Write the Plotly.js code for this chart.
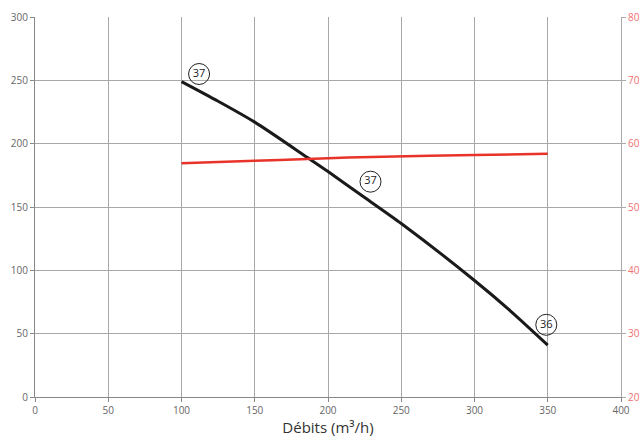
<!DOCTYPE html>
<html><head><meta charset="utf-8">
<script src="https://cdn.plot.ly/plotly-3.0.1.min.js"></script>
<style>html,body{margin:0;padding:0;background:#fff}</style>
</head><body><div id="chart" style="width:643px;height:437px"></div>
<script>
const debitX = [100, 125, 150, 186, 200, 225, 250, 300, 325, 350];
const hauteurY = [249, 233.5, 217, 189, 178, 157.5, 137, 92, 67.5, 41];
const rendX = [100, 150, 200, 230, 300, 350];
const rendY = [56.9, 57.3, 57.7, 57.9, 58.2, 58.4];
const labelX = [112, 229, 349];
const labelY = [255, 170, 57];
const labelText = ['37', '37', '36'];
const xTicks = [0, 50, 100, 150, 200, 250, 300, 350, 400];
const yTicks = [0, 50, 100, 150, 200, 250, 300];
const y2Ticks = [20, 30, 40, 50, 60, 70, 80];

const font = 'Open Sans, Noto Sans, sans-serif';
const data = [
  {x: debitX, y: hauteurY, mode: 'lines', line: {color: '#1a1a1a', width: 3, shape: 'spline', smoothing: 0.7}, hoverinfo: 'skip'},
  {x: rendX, y: rendY, yaxis: 'y2', mode: 'lines', line: {color: '#e8332a', width: 2.5, shape: 'spline'}, hoverinfo: 'skip'},
  {x: labelX, y: labelY, text: labelText, mode: 'markers+text', textposition: 'middle center',
   textfont: {family: font, size: 11, color: '#222'},
   marker: {symbol: 'circle', size: 21, color: 'rgba(255,255,255,0)', line: {color: '#222', width: 1}}, hoverinfo: 'skip'}
];
const layout = {
  width: 643, height: 437,
  margin: {l: 35, r: 22, t: 17, b: 40},
  showlegend: false,
  paper_bgcolor: '#fff', plot_bgcolor: '#fff',
  font: {family: font},
  xaxis: {range: [0, 400], tickvals: xTicks, ticktext: xTicks.map(String), showgrid: true, gridcolor: '#a8a8a8', gridwidth: 1,
    zeroline: false, showline: true, linecolor: '#888', ticks: 'outside', ticklen: 4, tickcolor: '#888',
    tickfont: {size: 10, color: '#666'}, title: {text: 'Débits (m³/h)', font: {size: 15, color: '#333'}, standoff: 8}},
  yaxis: {range: [0, 300], tickvals: yTicks, showgrid: true, gridcolor: '#a8a8a8', gridwidth: 1,
    zeroline: false, showline: true, linecolor: '#888', ticks: 'outside', ticklen: 4, tickcolor: '#888',
    tickfont: {size: 10, color: '#666'}},
  yaxis2: {range: [20, 80], tickvals: y2Ticks, overlaying: 'y', side: 'right', showgrid: false, zeroline: false,
    showline: true, linecolor: '#aaa', ticks: 'outside', ticklen: 4, tickcolor: '#aaa',
    tickfont: {size: 10, color: '#f07070'}}
};
Plotly.newPlot('chart', data, layout, {staticPlot: true, displayModeBar: false});
</script></body></html>
